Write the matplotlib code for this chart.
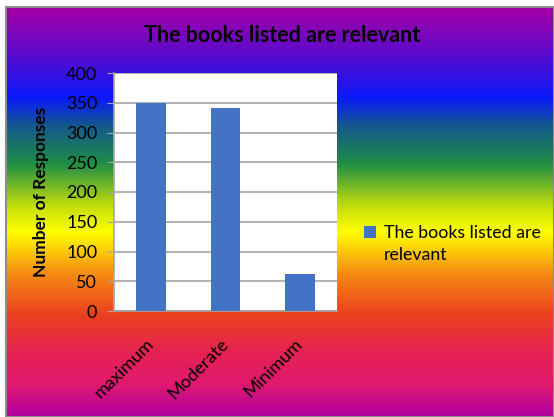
import matplotlib.pyplot as plt
from matplotlib.colors import LinearSegmentedColormap
from matplotlib.patches import Rectangle
from matplotlib.legend_handler import HandlerPatch
import numpy as np

categories = ["maximum", "Moderate", "Minimum"]
responses = [350, 342, 63]
series_name = "The books listed are relevant"
y_ticks = [0, 50, 100, 150, 200, 250, 300, 350, 400]

# rainbow backdrop, top -> bottom (position in 0..1, colour)
grad_stops = [
    (0.00, (165, 0, 165)),
    (0.10, (100, 10, 200)),
    (0.22, (10, 25, 250)),
    (0.29, (20, 90, 140)),
    (0.38, (30, 140, 70)),
    (0.49, (200, 225, 10)),
    (0.55, (255, 255, 0)),
    (0.65, (245, 140, 20)),
    (0.75, (235, 65, 30)),
    (0.84, (230, 35, 80)),
    (0.92, (225, 25, 110)),
    (1.00, (175, 0, 160)),
]
cmap = LinearSegmentedColormap.from_list(
    "rainbow_bg", [(p, tuple(c / 255 for c in rgb)) for p, rgb in grad_stops])

plt.rcParams['font.family'] = ['Lato', 'DejaVu Sans']

W, H = 554, 417
fig = plt.figure(figsize=(W / 100, H / 100), dpi=100)
fig.patch.set_facecolor("white")

# background panel with the gradient
bg = fig.add_axes([6 / W, 0, 1 - 6 / W, 1 - 7 / H])
bg.imshow(np.linspace(0, 1, 256).reshape(-1, 1), aspect="auto", cmap=cmap,
          extent=[0, 1, 0, 1])
bg.set_xlim(0, 1)
bg.set_ylim(0, 1)
bg.axis("off")
fig.add_artist(Rectangle((6 / W, 0), 1 - 6 / W, 1 - 7 / H, transform=fig.transFigure,
                         fill=False, edgecolor="#8c8c8c", linewidth=1.5, zorder=5))

# plot area
left, right, top, bottom = 114, 337, 73, 311
ax = fig.add_axes([left / W, 1 - bottom / H, (right - left) / W, (bottom - top) / H])
ax.set_facecolor("white")
x = np.arange(len(categories))
bars = ax.bar(x, responses, width=0.40, color="#4472C4", label=series_name, zorder=3)
ax.set_xlim(-0.5, len(categories) - 0.5)
ax.set_ylim(0, 400)
ax.set_yticks(y_ticks)
ax.yaxis.grid(True, color="#a6a6a6", linewidth=1.2, zorder=0)
ax.set_axisbelow(True)
for s in ["top", "right"]:
    ax.spines[s].set_visible(False)
ax.spines["left"].set_color("#a6a6a6")
ax.spines["bottom"].set_color("#a6a6a6")
ax.spines["left"].set_linewidth(1.2)
ax.spines["bottom"].set_linewidth(1.2)
ax.tick_params(axis="y", length=5, color="#a6a6a6", labelsize=13, pad=7)
ax.tick_params(axis="x", length=0, labelsize=13, pad=22)
ax.set_xticks(x)
ax.set_xticklabels(categories, rotation=45, ha="right", va="center",
                   rotation_mode="anchor")
ax.set_ylabel("Number of Responses", fontsize=12.5, fontweight="bold", labelpad=12)

fig.text(282 / W, 1 - 36 / H, series_name, ha="center", va="center",
         fontsize=15.5, fontweight="bold")


# square legend key aligned with the first line of the wrapped label
def top_square(legend, orig_handle, xdescent, ydescent, width, height, fontsize):
    s = 0.65 * fontsize
    return Rectangle((-xdescent, -ydescent + height - 0.12 * fontsize - s / 2), s, s)


key = bars.patches[0]
leg = ax.legend([key], ["The books listed are\nrelevant"], loc="center left",
                bbox_to_anchor=(1.05, 0.28), frameon=False, fontsize=12.8,
                handlelength=0.65, handleheight=2.3, handletextpad=0.45,
                handler_map={key: HandlerPatch(patch_func=top_square)})
leg.get_texts()[0].set_linespacing(1.45)

fig.savefig("out.png", dpi=100)
